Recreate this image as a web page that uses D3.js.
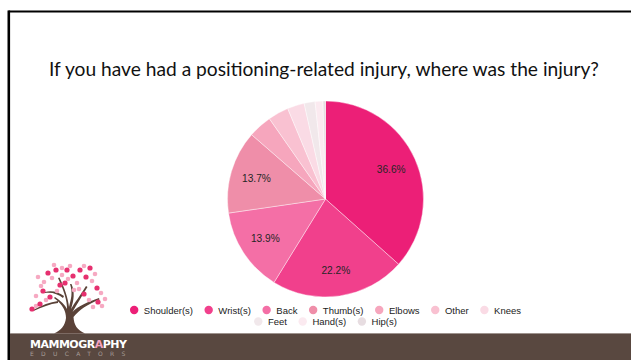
<!DOCTYPE html>
<html>
<head>
<meta charset="utf-8">
<script src="https://cdn.jsdelivr.net/npm/d3@7"></script>
<style>
  html, body { margin: 0; padding: 0; background: #ffffff; }
  svg { display: block; }
</style>
</head>
<body>
<svg id="slide" width="631" height="360"></svg>
<script>
// Survey answers: where the positioning-related injury happened (% of responses)
const categories = ["Shoulder(s)", "Wrist(s)", "Back", "Thumb(s)", "Elbows", "Other", "Knees", "Feet", "Hand(s)", "Hip(s)"];
const shares = [36.6, 22.2, 13.9, 13.7, 3.9, 3.4, 2.8, 1.8, 1.3, 0.4];
const sliceColors = ["#ec1f77", "#f1408c", "#f46fa6", "#ef8ea9", "#f6a6bd", "#f9c1d1", "#fadbe5", "#f1e8eb", "#fbeaf0", "#e7dde1"];
const title = "If you have had a positioning-related injury, where was the injury?";

const W = 631, H = 360;
const svg = d3.select("#slide");

// Slide frame
svg.append("rect").attr("x", 0).attr("y", 0).attr("width", W).attr("height", H).attr("fill", "#fff");
svg.append("line").attr("x1", 8.5).attr("x2", W).attr("y1", 11.5).attr("y2", 11.5)
  .attr("stroke", "#000").attr("stroke-width", 2.2);
svg.append("line").attr("x1", 8.8).attr("x2", 8.8).attr("y1", 10.5).attr("y2", H)
  .attr("stroke", "#000").attr("stroke-width", 2.6);

// Footer band
svg.append("rect").attr("x", 10).attr("y", 333.5).attr("width", W - 10).attr("height", H - 333.5)
  .attr("fill", "#594840");
svg.append("line").attr("x1", 10).attr("x2", W).attr("y1", 333.5).attr("y2", 333.5)
  .attr("stroke", "#9a8f8a").attr("stroke-width", 0.8);

// Title
svg.append("text")
  .attr("x", 324).attr("y", 76)
  .attr("text-anchor", "middle")
  .attr("font-family", "Lato, 'Open Sans', sans-serif")
  .attr("font-size", 19.2)
  .attr("fill", "#111")
  .text(title);

// Pie
const cx = 325.5, cy = 199, R = 98;
const data = categories.map((c, i) => ({ name: c, value: shares[i], color: sliceColors[i] }));
const pie = d3.pie().value(d => d.value).sort(null);
const arcs = pie(data);
const arc = d3.arc().innerRadius(0).outerRadius(R);
const labelArc = d3.arc().innerRadius(72).outerRadius(72);

const g = svg.append("g").attr("transform", `translate(${cx},${cy})`);
g.selectAll("path.slice")
  .data(arcs)
  .join("path")
  .attr("class", "slice")
  .attr("d", arc)
  .attr("fill", d => d.data.color)
  .attr("stroke", "#ffffff")
  .attr("stroke-width", 0.4);

const fmt = d3.format(".1f");
g.selectAll("text.pct")
  .data(arcs.filter(d => d.data.value >= 5))
  .join("text")
  .attr("class", "pct")
  .attr("transform", d => `translate(${labelArc.centroid(d)})`)
  .attr("text-anchor", "middle")
  .attr("dominant-baseline", "central")
  .attr("font-family", "'Liberation Sans', Arial, sans-serif")
  .attr("font-size", 10.2)
  .attr("fill", "#262626")
  .text(d => fmt(d.data.value) + "%");

// Legend: wrapped rows, each row centred under the pie
const legendFont = { family: "'Liberation Sans', Arial, sans-serif", size: 9.5 };
const markerR = 4.2, markerGap = 5.5, itemGap = 11.5, maxRow = 420;
const legend = svg.append("g");
const items = data.map(d => {
  const gi = legend.append("g");
  gi.append("circle").attr("r", markerR).attr("cx", markerR).attr("cy", 0).attr("fill", d.color);
  const t = gi.append("text")
    .attr("x", markerR * 2 + markerGap).attr("y", 0)
    .attr("dominant-baseline", "central")
    .attr("font-family", legendFont.family)
    .attr("font-size", legendFont.size)
    .attr("fill", "#222")
    .text(d.name);
  return { g: gi, w: markerR * 2 + markerGap + t.node().getComputedTextLength() };
});
const rows = [[]];
let rowW = 0;
items.forEach(it => {
  const add = (rows[rows.length - 1].length ? itemGap : 0) + it.w;
  if (rowW + add > maxRow && rows[rows.length - 1].length) { rows.push([it]); rowW = it.w; }
  else { rows[rows.length - 1].push(it); rowW += add; }
});
rows.forEach((row, ri) => {
  const total = d3.sum(row, r => r.w) + itemGap * (row.length - 1);
  let x = cx - total / 2;
  row.forEach(it => {
    it.g.attr("transform", `translate(${x},${310 + ri * 11.5})`);
    x += it.w + itemGap;
  });
});

// Logo: blossom tree
const logo = svg.append("g");
logo.append("path")
  .attr("d", "M54,333.5 C61,330 65,326 66,318 C66,311 63,305 54,298 L55,297 C61,301 65,305 67,309 C67,300 64,291 58,278 L59.5,277.5 C65,289 68,298 69,307 C71,299 73,293 70,284 L71.5,284 C75,292 74,300 71,309 C75,302 80,296 86,286 L87.5,287 C82,296 77,304 72.5,312 C78,306 88,302 99,298 L99.5,299.5 C88,304 79,310 73.5,317 C74,325 77,330 85,333.5 Z")
  .attr("fill", "#5a4238");
logo.append("path")
  .attr("d", "M58,301 C50,302 42,305 33,310 L33.5,311 C42,307 50,304 58,303 Z M64,296 C58,292 52,290 45,292 L45,293 C52,292 58,294 63,298 Z")
  .attr("fill", "#5a4238");

const blossomsBig = [[48, 273], [56, 270], [43, 291], [65, 283], [80, 270], [86, 277], [60, 285],
  [97, 288], [84, 294], [40, 304], [32, 309], [98, 302], [50, 297], [73, 276], [90, 268], [67, 270]];
const blossomsLight = [[38, 277], [44, 282], [52, 278], [62, 275], [70, 266], [77, 283], [92, 281],
  [101, 293], [105, 299], [74, 290], [57, 291], [46, 300], [89, 300], [36, 296], [68, 279], [79, 289],
  [95, 274], [84, 266], [54, 265], [41, 286], [102, 306], [93, 307], [36, 306], [62, 268]];
logo.selectAll("circle.lt").data(blossomsLight).join("circle")
  .attr("cx", d => d[0]).attr("cy", d => d[1]).attr("r", 2.3).attr("fill", "#f6a9c2");
logo.selectAll("circle.bg").data(blossomsBig).join("circle")
  .attr("cx", d => d[0]).attr("cy", d => d[1]).attr("r", 2.6).attr("fill", "#e6306f");

const brand = svg.append("text")
  .attr("x", 30).attr("y", 347.5)
  .attr("font-family", "'DejaVu Sans', sans-serif")
  .attr("font-weight", "bold")
  .attr("font-size", 11)
  .attr("fill", "#ffffff")
  .attr("letter-spacing", -0.5);
brand.append("tspan").text("MAMMOGR");
brand.append("tspan").attr("fill", "#f3a0bd").text("A");
brand.append("tspan").text("PHY");
svg.append("text")
  .attr("x", 30).attr("y", 355.5)
  .attr("font-family", "'DejaVu Sans', sans-serif")
  .attr("font-size", 6)
  .attr("fill", "#a79d98")
  .attr("letter-spacing", 7.3)
  .text("EDUCATORS");
</script>
</body>
</html>
